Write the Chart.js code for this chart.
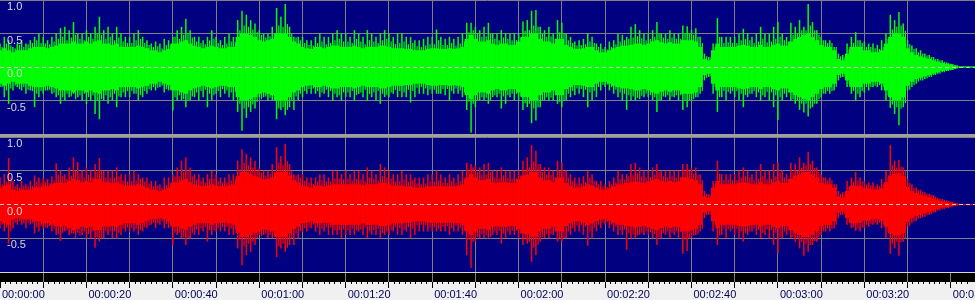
<!DOCTYPE html>
<html>
<head>
<meta charset="utf-8">
<script src="https://cdn.jsdelivr.net/npm/chart.js@4.4.1/dist/chart.umd.min.js"></script>
<style>
  html, body { margin: 0; padding: 0; background: #f0f0f0; }
  #wrap { position: relative; width: 975px; height: 300px; overflow: hidden; }
  #sep { position: absolute; left: 0; top: 134px; width: 975px; height: 3px; background: #a0a0a0; }
  #edge { position: absolute; left: 0; top: 272px; width: 975px; height: 1px; background: #d4d4d4; }
  canvas { position: absolute; left: 0; }
</style>
</head>
<body>
<div id="wrap">
  <canvas id="left-ch" width="975" height="134" style="top:0"></canvas>
  <div id="sep"></div>
  <canvas id="right-ch" width="975" height="135" style="top:137px"></canvas>
  <div id="edge"></div>
  <canvas id="timeline" width="975" height="27" style="top:273px"></canvas>
</div>
<script>
// one sample per second, amplitudes
const sampleStep = 1;
const totalSeconds = 225.6;

const timeLabels = ['00:00:00', '00:00:20', '00:00:40', '00:01:00', '00:01:20', '00:01:40',
    '00:02:00', '00:02:20', '00:02:40', '00:03:00', '00:03:20', '00:03:40'];
const ampTicks = [1, 0.5, 0, -0.5];
const ampLabels = ['1.0', '0.5', '0.0', '-0.5'];

// left channel (green): peak top / peak bottom / dense core / in-between peaks
const leftTop = [
    0.35,0.45,0.4,0.3,0.35,0.4,0.35,0.4,0.45,0.5,
    0.45,0.4,0.45,0.5,0.58,0.6,0.55,0.67,0.5,0.5,
    0.55,0.5,0.6,0.75,0.55,0.6,0.5,0.6,0.5,0.45,
    0.45,0.5,0.55,0.45,0.4,0.35,0.38,0.35,0.42,0.4,
    0.45,0.55,0.6,0.72,0.55,0.45,0.45,0.4,0.45,0.55,
    0.45,0.4,0.45,0.5,0.45,0.7,0.84,0.78,0.7,0.65,
    0.55,0.5,0.5,0.6,0.88,0.75,0.94,0.6,0.45,0.45,
    0.45,0.4,0.4,0.45,0.5,0.45,0.45,0.5,0.55,0.5,
    0.5,0.45,0.55,0.5,0.45,0.55,0.5,0.45,0.5,0.55,
    0.5,0.45,0.5,0.5,0.45,0.45,0.4,0.4,0.42,0.45,
    0.45,0.56,0.45,0.42,0.45,0.42,0.45,0.5,0.66,0.66,
    0.6,0.55,0.6,0.66,0.5,0.5,0.55,0.5,0.5,0.5,
    0.5,0.68,0.7,0.84,0.85,0.6,0.55,0.6,0.5,0.7,
    0.66,0.5,0.45,0.38,0.4,0.42,0.5,0.45,0.35,0.35,
    0.3,0.38,0.4,0.5,0.48,0.45,0.6,0.64,0.55,0.5,
    0.5,0.55,0.67,0.5,0.5,0.55,0.5,0.5,0.62,0.61,
    0.55,0.58,0.45,0.2,0.15,0.35,0.73,0.45,0.45,0.45,
    0.45,0.5,0.57,0.5,0.45,0.5,0.6,0.5,0.5,0.6,
    0.67,0.5,0.45,0.66,0.6,0.7,0.6,0.94,0.67,0.55,
    0.45,0.4,0.4,0.3,0.2,0.18,0.35,0.45,0.52,0.4,
    0.38,0.35,0.35,0.33,0.4,0.5,0.78,0.7,0.82,0.65,
    0.4,0.32,0.28,0.25,0.2,0.18,0.15,0.12,0.1,0.07,
    0.05,0.03,0.01,0.01,0.01,0.01
];
const leftBottom = [
    -0.3,-0.45,-0.55,-0.35,-0.3,-0.35,-0.4,-0.35,-0.6,-0.45,
    -0.4,-0.35,-0.4,-0.45,-0.55,-0.5,-0.45,-0.4,-0.45,-0.5,
    -0.55,-0.5,-0.7,-0.78,-0.5,-0.55,-0.5,-0.6,-0.45,-0.45,
    -0.45,-0.4,-0.5,-0.45,-0.4,-0.35,-0.35,-0.3,-0.38,-0.35,
    -0.65,-0.5,-0.5,-0.6,-0.5,-0.45,-0.5,-0.45,-0.6,-0.5,
    -0.4,-0.45,-0.4,-0.45,-0.5,-0.67,-0.95,-0.76,-0.67,-0.62,
    -0.45,-0.45,-0.5,-0.5,-0.78,-0.64,-0.72,-0.6,-0.64,-0.5,
    -0.45,-0.4,-0.4,-0.4,-0.45,-0.4,-0.45,-0.5,-0.45,-0.5,
    -0.45,-0.45,-0.5,-0.4,-0.45,-0.5,-0.45,-0.5,-0.55,-0.45,
    -0.45,-0.4,-0.45,-0.45,-0.45,-0.53,-0.45,-0.4,-0.4,-0.42,
    -0.4,-0.4,-0.4,-0.42,-0.5,-0.4,-0.4,-0.45,-0.64,-0.98,
    -0.6,-0.5,-0.5,-0.55,-0.45,-0.45,-0.62,-0.55,-0.45,-0.5,
    -0.5,-0.64,-0.6,-0.84,-0.8,-0.6,-0.5,-0.5,-0.5,-0.55,
    -0.6,-0.5,-0.45,-0.42,-0.4,-0.45,-0.6,-0.5,-0.45,-0.35,
    -0.3,-0.35,-0.4,-0.45,-0.5,-0.64,-0.5,-0.5,-0.48,-0.45,
    -0.45,-0.5,-0.67,-0.5,-0.45,-0.5,-0.45,-0.5,-0.64,-0.6,
    -0.5,-0.45,-0.4,-0.2,-0.15,-0.4,-0.67,-0.45,-0.5,-0.4,
    -0.45,-0.5,-0.6,-0.45,-0.4,-0.45,-0.5,-0.45,-0.5,-0.6,
    -0.79,-0.5,-0.45,-0.5,-0.55,-0.64,-0.68,-0.74,-0.6,-0.55,
    -0.45,-0.4,-0.4,-0.35,-0.2,-0.15,-0.3,-0.4,-0.5,-0.45,
    -0.38,-0.35,-0.3,-0.3,-0.35,-0.5,-0.61,-0.7,-0.87,-0.6,
    -0.35,-0.3,-0.25,-0.2,-0.18,-0.15,-0.12,-0.1,-0.08,-0.06,
    -0.05,-0.03,-0.01,-0.01,-0.01,-0.01
];
const leftBody = [
    0.25,0.28,0.25,0.22,0.25,0.25,0.25,0.28,0.3,0.3,
    0.3,0.28,0.3,0.32,0.35,0.35,0.35,0.38,0.35,0.35,
    0.38,0.35,0.38,0.4,0.35,0.35,0.33,0.35,0.3,0.3,
    0.3,0.3,0.32,0.3,0.28,0.25,0.25,0.22,0.25,0.27,
    0.35,0.35,0.38,0.4,0.35,0.32,0.3,0.28,0.3,0.32,
    0.3,0.28,0.28,0.3,0.3,0.45,0.5,0.5,0.48,0.45,
    0.4,0.38,0.4,0.42,0.5,0.5,0.5,0.45,0.38,0.35,
    0.3,0.28,0.27,0.3,0.3,0.28,0.3,0.32,0.32,0.3,
    0.3,0.3,0.32,0.3,0.28,0.3,0.3,0.3,0.32,0.32,
    0.3,0.28,0.28,0.28,0.27,0.27,0.25,0.25,0.25,0.27,
    0.28,0.28,0.27,0.27,0.28,0.27,0.28,0.3,0.42,0.48,
    0.42,0.38,0.38,0.4,0.35,0.33,0.35,0.35,0.33,0.33,
    0.38,0.45,0.45,0.5,0.5,0.42,0.38,0.38,0.35,0.42,
    0.42,0.33,0.3,0.27,0.27,0.28,0.3,0.3,0.25,0.22,
    0.22,0.25,0.28,0.3,0.32,0.32,0.33,0.35,0.35,0.33,
    0.35,0.38,0.4,0.37,0.35,0.37,0.35,0.35,0.4,0.4,
    0.4,0.38,0.3,0.12,0.1,0.25,0.35,0.3,0.3,0.3,
    0.3,0.32,0.33,0.32,0.3,0.3,0.33,0.3,0.3,0.33,
    0.35,0.32,0.32,0.38,0.42,0.45,0.48,0.5,0.45,0.4,
    0.33,0.3,0.3,0.25,0.12,0.1,0.2,0.3,0.3,0.3,
    0.25,0.25,0.22,0.22,0.25,0.35,0.45,0.5,0.5,0.45,
    0.28,0.22,0.18,0.16,0.14,0.12,0.1,0.08,0.06,0.05,
    0.04,0.02,0.008,0.008,0.008,0.008
];
const leftMid = [
    0.3,0.35,0.32,0.28,0.33,0.3,0.34,0.36,0.4,0.36,
    0.35,0.34,0.38,0.42,0.45,0.4,0.44,0.48,0.42,0.4,
    0.45,0.42,0.5,0.48,0.42,0.45,0.4,0.44,0.38,0.36,
    0.36,0.4,0.42,0.36,0.33,0.3,0.31,0.28,0.33,0.34,
    0.45,0.42,0.48,0.5,0.44,0.38,0.36,0.34,0.4,0.42,
    0.36,0.33,0.35,0.38,0.37,0.55,0.62,0.6,0.56,0.52,
    0.48,0.44,0.46,0.5,0.62,0.6,0.64,0.5,0.44,0.4,
    0.36,0.33,0.32,0.36,0.38,0.34,0.36,0.4,0.42,0.38,
    0.38,0.36,0.42,0.38,0.34,0.4,0.38,0.36,0.4,0.42,
    0.38,0.34,0.36,0.38,0.34,0.36,0.31,0.3,0.32,0.34,
    0.34,0.4,0.33,0.33,0.36,0.32,0.35,0.38,0.52,0.55,
    0.5,0.45,0.46,0.5,0.42,0.4,0.44,0.42,0.4,0.4,
    0.44,0.54,0.55,0.62,0.6,0.5,0.45,0.46,0.42,0.52,
    0.5,0.4,0.36,0.32,0.33,0.34,0.38,0.36,0.3,0.27,
    0.26,0.3,0.34,0.38,0.4,0.42,0.44,0.46,0.43,0.4,
    0.42,0.45,0.5,0.44,0.42,0.44,0.42,0.42,0.5,0.5,
    0.48,0.45,0.36,0.16,0.14,0.3,0.45,0.36,0.37,0.36,
    0.36,0.4,0.42,0.4,0.36,0.38,0.42,0.37,0.38,0.42,
    0.45,0.4,0.38,0.48,0.5,0.55,0.55,0.62,0.55,0.48,
    0.4,0.36,0.36,0.3,0.16,0.14,0.26,0.36,0.4,0.36,
    0.3,0.3,0.28,0.27,0.3,0.42,0.56,0.6,0.62,0.54,
    0.34,0.27,0.22,0.2,0.17,0.15,0.12,0.1,0.08,0.06,
    0.045,0.025,0.008,0.008,0.008,0.008
];

// right channel (red)
const rightTop = [
    0.4,0.45,0.69,0.35,0.3,0.35,0.3,0.35,0.43,0.4,
    0.4,0.38,0.42,0.61,0.5,0.45,0.55,0.7,0.63,0.5,
    0.55,0.5,0.6,0.69,0.5,0.5,0.5,0.55,0.45,0.45,
    0.45,0.5,0.45,0.4,0.4,0.35,0.35,0.3,0.4,0.4,
    0.45,0.55,0.65,0.7,0.55,0.45,0.45,0.4,0.45,0.5,
    0.45,0.4,0.4,0.45,0.45,0.65,0.82,0.75,0.7,0.65,
    0.55,0.5,0.5,0.6,0.85,0.72,0.9,0.6,0.45,0.45,
    0.45,0.4,0.4,0.4,0.45,0.45,0.4,0.5,0.5,0.45,
    0.5,0.45,0.5,0.5,0.45,0.55,0.5,0.45,0.6,0.55,
    0.5,0.45,0.45,0.5,0.45,0.45,0.4,0.4,0.4,0.45,
    0.45,0.5,0.45,0.4,0.45,0.4,0.45,0.5,0.62,0.6,
    0.58,0.55,0.6,0.62,0.5,0.5,0.55,0.5,0.5,0.5,
    0.5,0.65,0.7,0.88,0.8,0.6,0.55,0.55,0.5,0.65,
    0.62,0.5,0.45,0.4,0.4,0.42,0.5,0.45,0.35,0.35,
    0.3,0.35,0.4,0.5,0.45,0.45,0.6,0.62,0.55,0.5,
    0.5,0.55,0.6,0.5,0.5,0.5,0.5,0.5,0.6,0.6,
    0.55,0.55,0.45,0.2,0.15,0.35,0.65,0.45,0.45,0.45,
    0.45,0.5,0.55,0.5,0.45,0.5,0.6,0.5,0.5,0.6,
    0.62,0.5,0.45,0.62,0.6,0.7,0.62,0.78,0.65,0.55,
    0.45,0.4,0.4,0.3,0.2,0.18,0.35,0.4,0.48,0.4,
    0.35,0.33,0.33,0.3,0.38,0.5,0.88,0.65,0.66,0.55,
    0.38,0.3,0.25,0.22,0.18,0.16,0.14,0.1,0.08,0.06,
    0.04,0.02,0.01,0.01,0.01,0.01
];
const rightBottom = [
    -0.35,-0.4,-0.58,-0.35,-0.3,-0.3,-0.35,-0.3,-0.43,-0.4,
    -0.35,-0.35,-0.4,-0.45,-0.54,-0.4,-0.45,-0.43,-0.42,-0.45,
    -0.5,-0.5,-0.64,-0.55,-0.5,-0.45,-0.5,-0.5,-0.45,-0.4,
    -0.4,-0.4,-0.45,-0.4,-0.35,-0.3,-0.35,-0.3,-0.35,-0.35,
    -0.6,-0.45,-0.5,-0.6,-0.5,-0.45,-0.45,-0.4,-0.55,-0.45,
    -0.4,-0.4,-0.4,-0.45,-0.45,-0.65,-0.9,-0.75,-0.7,-0.6,
    -0.45,-0.45,-0.5,-0.5,-0.78,-0.65,-0.7,-0.6,-0.6,-0.5,
    -0.4,-0.4,-0.35,-0.4,-0.45,-0.4,-0.45,-0.45,-0.45,-0.5,
    -0.45,-0.45,-0.45,-0.4,-0.45,-0.5,-0.45,-0.45,-0.5,-0.45,
    -0.45,-0.4,-0.45,-0.45,-0.4,-0.5,-0.45,-0.4,-0.4,-0.4,
    -0.4,-0.4,-0.4,-0.4,-0.45,-0.4,-0.4,-0.45,-0.75,-0.94,
    -0.55,-0.5,-0.5,-0.5,-0.45,-0.45,-0.58,-0.5,-0.45,-0.45,
    -0.5,-0.6,-0.58,-0.85,-0.75,-0.55,-0.5,-0.5,-0.45,-0.55,
    -0.55,-0.5,-0.45,-0.4,-0.4,-0.45,-0.61,-0.5,-0.4,-0.35,
    -0.3,-0.35,-0.4,-0.45,-0.45,-0.67,-0.5,-0.5,-0.45,-0.45,
    -0.45,-0.5,-0.6,-0.5,-0.45,-0.5,-0.45,-0.5,-0.73,-0.69,
    -0.5,-0.45,-0.4,-0.2,-0.15,-0.4,-0.6,-0.45,-0.5,-0.4,
    -0.45,-0.5,-0.55,-0.45,-0.4,-0.45,-0.5,-0.45,-0.5,-0.6,
    -0.72,-0.5,-0.45,-0.5,-0.55,-0.65,-0.76,-0.7,-0.6,-0.55,
    -0.45,-0.4,-0.4,-0.35,-0.2,-0.15,-0.3,-0.35,-0.39,-0.4,
    -0.35,-0.33,-0.3,-0.3,-0.35,-0.5,-0.73,-0.65,-0.76,-0.55,
    -0.33,-0.27,-0.24,-0.2,-0.18,-0.15,-0.12,-0.09,-0.07,-0.05,
    -0.04,-0.02,-0.01,-0.01,-0.01,-0.01
];
const rightBody = [
    0.25,0.28,0.3,0.22,0.2,0.22,0.22,0.22,0.25,0.25,
    0.28,0.27,0.3,0.32,0.33,0.32,0.35,0.38,0.36,0.33,
    0.35,0.33,0.38,0.38,0.33,0.33,0.32,0.33,0.3,0.28,
    0.28,0.28,0.3,0.28,0.25,0.22,0.22,0.2,0.22,0.25,
    0.33,0.33,0.36,0.38,0.33,0.3,0.28,0.27,0.28,0.3,
    0.28,0.27,0.27,0.28,0.3,0.42,0.48,0.48,0.45,0.42,
    0.4,0.37,0.38,0.4,0.48,0.48,0.48,0.43,0.36,0.33,
    0.28,0.27,0.25,0.28,0.28,0.27,0.28,0.3,0.3,0.3,
    0.3,0.3,0.3,0.3,0.28,0.3,0.3,0.3,0.32,0.32,
    0.3,0.28,0.28,0.28,0.27,0.27,0.25,0.25,0.25,0.27,
    0.27,0.27,0.27,0.27,0.27,0.27,0.28,0.3,0.4,0.45,
    0.4,0.36,0.36,0.38,0.33,0.32,0.33,0.33,0.32,0.32,
    0.37,0.43,0.44,0.48,0.48,0.4,0.36,0.36,0.33,0.4,
    0.4,0.32,0.28,0.25,0.25,0.27,0.3,0.28,0.25,0.22,
    0.22,0.24,0.27,0.3,0.3,0.32,0.33,0.34,0.33,0.32,
    0.34,0.36,0.38,0.35,0.33,0.35,0.33,0.34,0.4,0.4,
    0.38,0.36,0.3,0.12,0.1,0.25,0.35,0.3,0.3,0.3,
    0.3,0.32,0.33,0.32,0.3,0.3,0.33,0.3,0.3,0.33,
    0.35,0.32,0.32,0.38,0.42,0.45,0.48,0.48,0.45,0.4,
    0.32,0.3,0.3,0.25,0.12,0.1,0.2,0.28,0.28,0.27,
    0.24,0.24,0.22,0.22,0.24,0.33,0.43,0.46,0.46,0.42,
    0.26,0.2,0.17,0.15,0.13,0.11,0.09,0.07,0.05,0.04,
    0.03,0.015,0.008,0.008,0.008,0.008
];
const rightMid = [
    0.3,0.34,0.4,0.27,0.25,0.28,0.27,0.28,0.34,0.32,
    0.34,0.32,0.36,0.44,0.42,0.38,0.43,0.5,0.46,0.4,
    0.44,0.4,0.48,0.5,0.4,0.4,0.4,0.42,0.36,0.34,
    0.35,0.36,0.38,0.34,0.31,0.27,0.28,0.25,0.29,0.31,
    0.42,0.42,0.48,0.5,0.42,0.37,0.35,0.33,0.38,0.38,
    0.35,0.33,0.33,0.36,0.37,0.52,0.62,0.58,0.55,0.5,
    0.47,0.43,0.45,0.48,0.62,0.58,0.64,0.5,0.43,0.4,
    0.35,0.33,0.3,0.34,0.36,0.34,0.34,0.38,0.38,0.37,
    0.38,0.36,0.38,0.37,0.34,0.4,0.38,0.36,0.42,0.4,
    0.38,0.34,0.35,0.37,0.34,0.36,0.31,0.3,0.31,0.34,
    0.34,0.36,0.33,0.32,0.35,0.32,0.35,0.38,0.52,0.55,
    0.48,0.44,0.45,0.48,0.4,0.39,0.43,0.4,0.39,0.39,
    0.43,0.52,0.55,0.64,0.6,0.48,0.44,0.44,0.4,0.5,
    0.5,0.4,0.35,0.31,0.31,0.33,0.4,0.35,0.3,0.27,
    0.26,0.3,0.33,0.38,0.37,0.42,0.44,0.46,0.42,0.4,
    0.41,0.44,0.48,0.42,0.4,0.42,0.4,0.41,0.52,0.5,
    0.46,0.44,0.36,0.16,0.14,0.3,0.46,0.36,0.37,0.36,
    0.36,0.4,0.42,0.4,0.36,0.38,0.42,0.37,0.38,0.42,
    0.48,0.4,0.38,0.48,0.5,0.55,0.58,0.6,0.54,0.48,
    0.4,0.36,0.36,0.3,0.16,0.14,0.26,0.34,0.36,0.34,
    0.3,0.29,0.27,0.27,0.3,0.4,0.58,0.55,0.56,0.5,
    0.32,0.25,0.21,0.19,0.16,0.14,0.12,0.09,0.07,0.05,
    0.035,0.018,0.008,0.008,0.008,0.008
];

Chart.defaults.font.family = '"Liberation Sans", Arial, sans-serif';
Chart.defaults.font.size = 11;

const clear = 'rgba(0,0,0,0)';

// fills the plot area (navy panels, black overview strip)
const areaFill = {
    id: 'areaFill',
    beforeDraw(chart, args, opts) {
        const { ctx, chartArea: a } = chart;
        ctx.save();
        ctx.fillStyle = opts.color;
        ctx.fillRect(a.left, a.top, a.right - a.left, a.bottom - a.top);
        ctx.restore();
    }
};

function tickValue(ctx) {
    return ctx && ctx.tick ? ctx.tick.value : null;
}

function isGridSecond(v) {
    return v !== null && v > 0 && v < totalSeconds - 1 && v % 10 === 0;
}

function waveDatasets(top, bottom, body, mid, color) {
    return [
        {
            label: 'peaks',
            data: top.map((v, i) => ({ x: i * sampleStep, y: [bottom[i], v] })),
            backgroundColor: color,
            maxBarThickness: 1.5,
            grouped: false,
            order: 1
        },
        {
            label: 'between',
            data: mid.map((v, i) => ({ x: (i + 0.5) * sampleStep, y: [-v, v] })),
            backgroundColor: color,
            maxBarThickness: 1.2,
            grouped: false,
            order: 2
        },
        {
            label: 'body',
            data: body.map((v, i) => ({ x: i * sampleStep, y: [-v, v] })),
            backgroundColor: color,
            barPercentage: 2,
            categoryPercentage: 1,
            grouped: false,
            order: 3
        }
    ];
}

function panelOptions() {
    return {
        responsive: false,
        animation: false,
        events: [],
        layout: { padding: 0 },
        plugins: {
            legend: { display: false },
            tooltip: { enabled: false },
            areaFill: { color: '#000080' }
        },
        scales: {
            x: {
                type: 'linear',
                min: 0,
                max: totalSeconds,
                offset: false,
                ticks: { display: false, stepSize: 10 },
                grid: { offset: false, drawTicks: false, color: ctx => isGridSecond(tickValue(ctx)) ? '#808080' : clear },
                border: { display: false }
            },
            y: {
                min: -1,
                max: 1,
                ticks: {
                    stepSize: 0.5,
                    mirror: true,
                    padding: 7,
                    labelOffset: 7,
                    z: 1,
                    color: '#d8d8d8',
                    callback: v => {
                        const i = ampTicks.indexOf(v);
                        return i >= 0 ? ampLabels[i] : '';
                    }
                },
                grid: { drawTicks: false, color: ctx => tickValue(ctx) === 0 ? clear : '#808080' },
                border: { display: false },
                afterFit: s => { s.width = 0; s.paddingTop = 0; s.paddingBottom = 0; }
            },
            zero: {
                position: 'left',
                min: -1,
                max: 1,
                afterBuildTicks: s => { s.ticks = [{ value: 0 }]; },
                ticks: { display: false },
                grid: { z: 1, drawTicks: false, color: '#c8c8c8' },
                border: { display: false, dash: [4, 3] },
                afterFit: s => { s.width = 0; }
            }
        }
    };
}

new Chart(document.getElementById('left-ch'), {
    type: 'bar',
    data: { datasets: waveDatasets(leftTop, leftBottom, leftBody, leftMid, '#00ff00') },
    options: panelOptions(),
    plugins: [areaFill]
});

new Chart(document.getElementById('right-ch'), {
    type: 'bar',
    data: { datasets: waveDatasets(rightTop, rightBottom, rightBody, rightMid, '#ff0000') },
    options: panelOptions(),
    plugins: [areaFill]
});

// time ruler: black overview strip with ticks and labels below
new Chart(document.getElementById('timeline'), {
    type: 'line',
    data: { datasets: [] },
    options: {
        responsive: false,
        animation: false,
        events: [],
        layout: { padding: 0 },
        plugins: {
            legend: { display: false },
            tooltip: { enabled: false },
            areaFill: { color: '#000000' }
        },
        scales: {
            x: {
                type: 'linear',
                min: 0,
                max: totalSeconds,
                afterFit: s => { s.height = 18; s.paddingLeft = 0; s.paddingRight = 0; },
                ticks: {
                    stepSize: 1.25,
                    autoSkip: false,
                    maxRotation: 0,
                    minRotation: 0,
                    align: 'start',
                    labelOffset: 2,
                    padding: 0,
                    color: '#00005a',
                    callback: v => v % 20 === 0 ? timeLabels[v / 20] : ''
                },
                grid: {
                    tickLength: 6,
                    color: ctx => isGridSecond(tickValue(ctx)) ? '#808080' : clear,
                    tickColor: ctx => {
                        const v = tickValue(ctx);
                        return v !== null && v < totalSeconds - 0.5 ? '#000000' : clear;
                    },
                    tickBorderDash: ctx => {
                        const v = tickValue(ctx);
                        return v !== null && v % 10 === 0 ? [] : [2, 10];
                    }
                },
                border: { display: false }
            },
            y: { display: false, min: 0, max: 1 }
        }
    },
    plugins: [areaFill]
});
</script>
</body>
</html>
